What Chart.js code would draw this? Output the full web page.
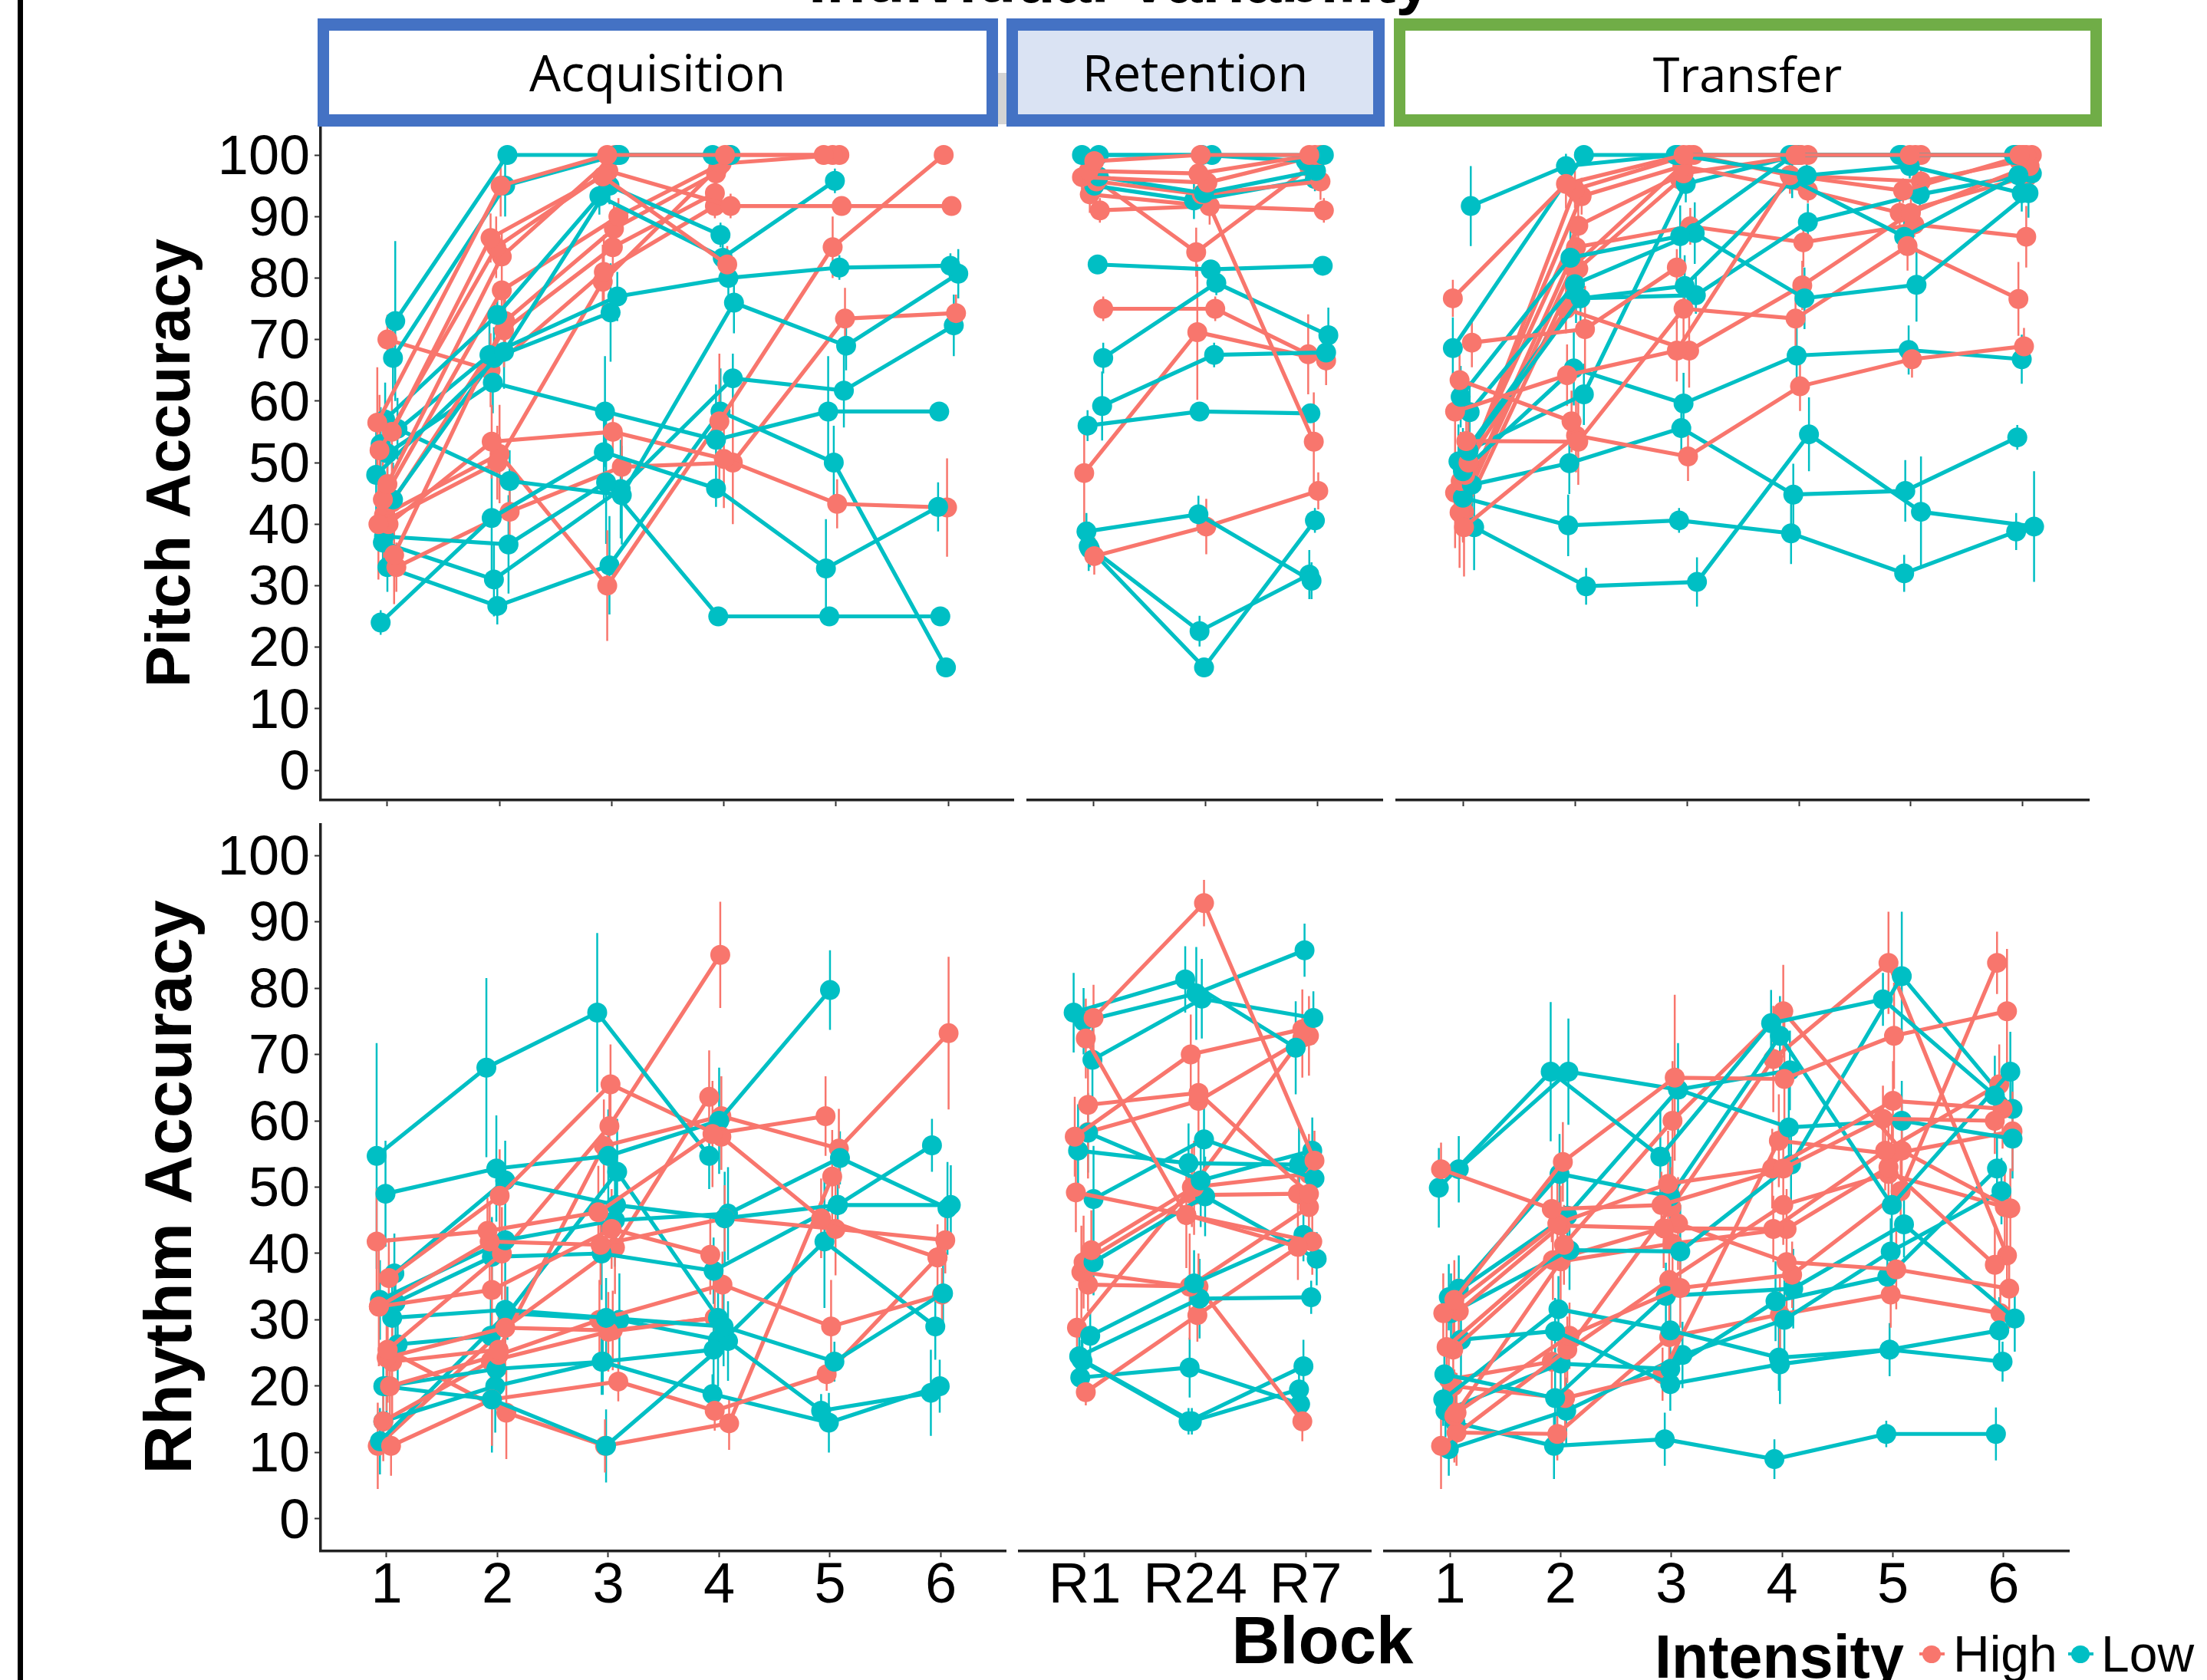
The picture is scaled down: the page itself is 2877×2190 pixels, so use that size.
<!DOCTYPE html>
<html>
<head>
<meta charset="utf-8">
<title>Individual Variability</title>
<script src="https://cdn.jsdelivr.net/npm/chart.js@4/dist/chart.umd.js"></script>
<style>
    html, body { margin: 0; padding: 0; background: #fff; overflow: hidden; }
    #page { position: relative; width: 2877px; height: 2190px; overflow: hidden; background: #fff; }
    canvas { position: absolute; }
    .txt { position: absolute; line-height: 1; white-space: nowrap; color: #000; z-index: 5; }
    .strip { position: absolute; box-sizing: border-box; z-index: 4; }
</style>
</head>
<body>
<div id="page"></div>
<script>
// Block labels
const blockLabels = ['1', '2', '3', '4', '5', '6'];
const retentionLabels = ['R1', 'R24', 'R7'];
const yTicks = [0, 10, 20, 30, 40, 50, 60, 70, 80, 90, 100];

// every participant is one line, each point is [block + jitter, mean, error half length]
const pitchAcqHigh = [
    [[0.91,56.5,9],[2.01,95,5],[2.96,100,0],[4.01,100,0],[4.89,100,0]],
    [[1.04,55,6],[1.92,86.5,4],[2.92,96.5,3],[4.03,82.2,3]],
    [[0.93,52,9],[1.97,85,5],[2.97,97.4,2],[4.06,91.7,2],[5.05,91.7,0],[6.03,91.7,0]],
    [[1.0,46.5,7],[2.02,83.5,4],[3.03,100,0],[4.05,100,0],[4.97,100,0]],
    [[0.96,44,7],[2.02,78,5],[3.06,90,3],[3.98,98.6,1],[5.03,100,0]],
    [[1.06,35,8],[2.05,73,6],[3.02,88,4],[3.93,97,2]],
    [[1.04,43.5,8],[2.04,71.5,6],[3.01,85,4],[3.92,93.8,2]],
    [[1.0,70,4],[1.92,65,6],[2.93,81,6],[3.92,91.7,2]],
    [[0.92,40,9],[1.98,50,6],[2.92,79.4,6],[3.95,98,2]],
    [[1.01,40,6],[1.93,53.4,6],[3.01,55,4],[4.0,50.6,8],[5.01,43.3,4],[5.99,42.7,8]],
    [[1.08,33,4],[2.09,42,4],[3.09,49.3,5],[4.08,50,10],[5.08,73.4,5],[6.07,74.3,3]],
    [[0.97,41.5,7],[2.0,51.4,8],[2.96,30,9],[3.96,56.7,11],[4.97,85,5],[5.96,100,0]]
];
const pitchAcqLow = [
    [[1.07,73,13],[2.07,100,0],[3.07,100,0],[3.9,100,0]],
    [[1.05,67,6],[2.05,95,5],[3.05,100,0],[4.06,100,0]],
    [[0.98,57,6],[1.98,74,5],[2.89,93.3,3],[3.99,83.3,4],[4.99,95.8,2]],
    [[0.9,48,7],[2.04,68,6],[2.98,95,3],[3.97,87,2]],
    [[0.94,53,6],[1.91,67.5,6],[3.05,77,4],[4.04,80,3],[5.03,81.7,2],[6.02,82,2]],
    [[1.05,44,6],[1.95,67,5],[2.99,74.4,8]],
    [[1.0,51.5,7],[1.94,63,5],[2.94,58.3,9],[3.93,53.7,9],[4.93,58.3,9],[5.92,58.3,0]],
    [[1.09,55.5,5],[2.09,47,5],[3.09,44.7,8],[4.09,76,5],[5.09,69,4],[6.09,80.7,4]],
    [[0.94,24,2],[1.93,41,9],[2.93,51.7,8],[3.93,45.8,3],[4.91,32.8,8],[5.91,42.8,4]],
    [[0.97,38,4],[2.08,36.7,8],[2.95,46.8,10],[3.95,25,0],[4.94,25,0],[5.93,25,0]],
    [[0.96,37,4],[1.95,31,6],[3.08,45.7,8],[4.08,63.7,4],[5.07,61.7,6],[6.05,72.3,5]],
    [[1.0,33,4],[1.98,26.7,3],[2.98,33.3,8],[3.97,58.3,7],[4.98,50,6],[5.98,16.7,0]]
];
const pitchRetHigh = [
    [[1.01,99,1],[1.96,100,0],[2.93,100,0]],
    [[0.96,97.4,2],[1.94,97,2],[2.98,100,0]],
    [[0.9,96.4,2],[2.02,95.5,2],[3.03,100,0]],
    [[1.03,95.7,2],[1.97,93.6,2],[3.03,95.7,3]],
    [[0.97,93.6,3],[2.04,91.7,3],[2.97,53.4,8]],
    [[1.06,91,2],[2.04,91.7,3],[3.06,91,2]],
    [[0.95,97,2],[1.92,84.2,4],[2.93,98,1]],
    [[1.09,75,2],[2.09,75,2],[2.92,67.6,6.5]],
    [[0.92,48.3,8],[1.93,71.2,11],[3.08,66.6,4]],
    [[1.01,34.8,3],[2.01,39.6,4.5],[3.01,45.4,3]]
];
const pitchRetLow = [
    [[0.9,100,0],[2.06,100,0],[3.06,100,0]],
    [[1.05,100,0],[1.97,100,0],[2.9,99,1]],
    [[1.05,96.5,2],[1.99,93.8,3],[2.99,97.4,2]],
    [[1.01,95,3],[1.9,92.6,3],[2.98,96.1,2]],
    [[1.04,82.2,1],[2.05,81.4,1],[3.05,82,1]],
    [[1.09,67,2.5],[2.1,79.2,2],[3.1,70.7,4.5]],
    [[1.08,59.2,5.6],[2.08,67.5,2],[3.08,67.9,3]],
    [[0.95,56,2.5],[1.95,58.3,1],[2.94,58,1.5]],
    [[0.94,38.8,3],[1.94,41.6,3],[2.95,30.8,3]],
    [[0.96,36.4,4],[1.95,22.6,2.5],[2.93,31.8,4]],
    [[0.97,36,3],[1.99,16.7,1],[2.98,40.6,2]]
];
const pitchTraHigh = [
    [[0.91,76.7,3],[1.92,95.3,4],[2.97,100,0],[3.97,100,0],[4.99,100,0],[5.97,100,0]],
    [[1.08,69.5,4],[2.09,71.7,7],[2.91,81.7,3]],
    [[0.97,63.4,6],[1.97,56.7,5]],
    [[0.93,58.3,5],[1.93,64.2,5],[2.91,68.2,5],[3.92,96.7,3],[4.93,94.2,2],[6.03,100,0]],
    [[1.03,53.5,8],[2.03,53.4,7],[2.97,75,5],[3.97,73.4,5],[4.97,85.2,4],[5.96,76.6,6]],
    [[1.05,50,8],[1.92,75,4],[3.02,68.2,6],[4.03,78.8,4],[5.0,90.6,3],[6.06,98.2,2]],
    [[1.01,39.5,8],[2.01,54.4,6],[3.01,51,4],[4.01,62.4,4],[5.01,66.8,3],[6.01,68.9,3]],
    [[1.02,48,7],[2.0,94.4,3],[3.02,100,0],[4.02,100,0],[5.04,100,0],[6.0,100,0]],
    [[0.98,47,8],[2.06,93.3,3],[2.96,98.2,2],[4.08,94.2,2],[4.9,90.6,2],[6.04,96.5,2]],
    [[0.93,45.1,9],[2.03,88.5,4],[2.97,97,3],[4.08,100,0],[5.09,100,0],[6.08,100,0]],
    [[1.0,44,7],[2.01,85,4],[3.03,88.4,3],[4.04,85.8,4],[5.03,88.7,2],[6.03,86.7,5]],
    [[0.97,41.9,9],[1.98,81.8,5],[3.06,100,0],[3.92,96.7,3],[5.09,95.7,2],[5.97,99,1]],
    [[1.01,42,8],[2.03,81.5,4],[2.94,96,3]]
];
const pitchTraLow = [
    [[1.07,91.7,6.5],[1.92,98.2,2],[2.9,100,0],[3.92,100,0],[4.9,100,0],[5.92,100,0]],
    [[0.91,68.6,5],[2.08,100,0],[2.92,100,0],[4.07,96.7,3],[4.99,98.2,2],[5.99,93.8,3]],
    [[0.98,60.7,5],[1.96,83.3,5],[2.94,86.8,5],[3.95,100,0],[4.92,100,0],[5.94,100,0]],
    [[1.06,58.2,5],[2.0,79,4],[3.07,87.3,5],[4.05,76.7,5],[5.05,78.9,6],[6.05,93.8,4]],
    [[1.05,51.9,7],[2.05,76.7,4],[2.98,78.7,5],[3.94,96,3],[4.94,86.7,3],[5.96,96.7,2]],
    [[0.96,50.2,6],[2.01,76.7,4],[3.08,77.2,3],[4.08,89.1,3],[5.08,93.6,3],[6.08,97,2]],
    [[1.0,48.6,7],[1.99,65.3,6],[2.97,59.6,5],[3.98,67.4,5],[4.98,68.3,4],[5.99,66.8,4]],
    [[1.08,46.4,6],[1.95,49.9,5],[2.95,55.6,5],[3.95,44.8,5],[4.95,45.4,5],[5.95,54.1,2]],
    [[1.0,44.3,7],[1.94,39.8,5],[2.93,40.6,2],[3.93,38.5,5],[4.94,32,3],[5.94,38.8,3]],
    [[1.1,39.5,7],[2.1,29.9,3],[3.09,30.6,4],[4.09,54.6,6],[5.09,42,9],[6.1,39.6,9]],
    [[1.05,52,6],[2.08,61.1,5],[2.99,95.3,3],[4.0,100,0]]
];
const rhythmAcqHigh = [
    [[0.91,41.8,8],[1.91,43.4,5],[2.91,46.2,7],[3.94,58,8],[4.96,60.7,6]],
    [[1.02,36.3,6],[2.02,48.7,7],[3.02,65.5,6],[4.02,57.6,5],[4.92,45.3,6],[5.97,39.4,5]],
    [[0.93,32,9],[1.95,34.5,7],[3.03,43.7,6],[3.92,39.8,6]],
    [[0.93,32,6],[1.93,41.8,6],[2.93,41.3,6],[4.05,45.3,5],[5.05,43.7,7],[6.04,42,5]],
    [[1.01,25.5,8],[2.04,40,7],[3.01,59.2,7],[4.01,85,8]],
    [[1.0,24.3,8],[2.07,28.8,7],[3.06,40.9,7],[3.91,63.6,7]],
    [[1.05,23.7,8],[2.01,25.5,7],[2.96,56.2,7],[4.02,60.7,6],[5.08,55.8,6],[6.07,73.2,11.5]],
    [[1.03,20,6],[2.01,24.7,7],[2.92,30,6],[4.03,35.3,5],[5.01,29,7],[6.01,33.8,4]],
    [[0.97,14.7,6],[1.94,23.8,5],[3.0,28.2,6],[3.96,30.3,5]],
    [[1.04,11,4.5],[1.95,18,7],[3.09,20.7,3],[3.96,16.3,3],[4.97,21.8,2.5],[5.97,39.4,5]],
    [[1.01,25.5,6],[2.08,16,7],[2.97,11,4],[4.09,14.4,4],[5.02,51.6,7]],
    [[0.92,11,6.5],[2.07,28.8,7],[3.04,28.4,6],[3.96,30.3,5]]
];
const rhythmAcqLow = [
    [[0.91,54.7,17],[1.9,68,13.5],[2.9,76.3,12],[3.91,54.7,5]],
    [[0.99,49,8],[1.99,52.8,8],[3.0,54.7,7],[4.0,60,8],[5.0,79.7,6]],
    [[1.07,37,6],[2.07,51,6],[3.07,47.3,7],[4.05,45.3,7],[5.07,47.3,4],[6.09,47.3,6]],
    [[0.94,33,6],[2.07,42,6],[3.06,45,7],[4.08,46,7],[5.09,54.4,4],[6.06,46.8,7]],
    [[1.08,32.6,5],[1.95,39.5,6],[2.94,40,7],[3.95,37.4,5],[5.07,47.3,4],[5.92,56.3,4]],
    [[1.05,30.3,6],[2.07,31.5,5],[2.98,30.3,6],[4.04,29,6],[5.04,23.7,3],[6.02,34,5]],
    [[1.1,26.3,6],[1.94,27.6,6],[3.08,52.3,8],[3.99,30.3,5]],
    [[1.0,20,4],[1.99,22.6,5],[2.95,23.7,5],[3.95,25.5,6],[4.95,41.8,10],[5.95,29,5]],
    [[0.97,20,5],[1.95,18,8],[2.98,11,5.5],[4.08,26.8,6],[4.92,16.3,2.5],[5.91,19,6.5]],
    [[0.97,14.7,5],[1.98,20,7],[2.94,23.7,5],[3.94,18.8,3],[4.99,14.5,4.5],[5.99,20,4]],
    [[0.94,11.7,5],[2.09,31,4],[3.1,30,7],[3.99,27,7]]
];
const rhythmRetHigh = [
    [[1.08,75.5,5],[2.08,92.8,3.5],[3.08,54,4.5]],
    [[1.01,72.4,6],[1.92,45.8,6],[2.93,41,5]],
    [[1.03,62.4,6],[2.03,64.2,6],[3.03,49,8]],
    [[0.91,57.6,6],[1.96,70,6],[2.97,73.8,6]],
    [[1.03,58.3,7],[2.03,63,7],[3.03,72.8,6]],
    [[0.92,49.2,6],[1.92,45.8,8],[3.06,41.8,5]],
    [[1.06,40.5,6],[1.99,50,7],[3.03,52,6]],
    [[0.99,38.7,7],[1.99,48.8,6],[2.93,49,6]],
    [[0.97,37.2,7],[1.95,35,8],[3.03,47,5]],
    [[1.03,35.3,4],[2.03,35,5],[2.97,14.7,3]],
    [[0.93,28.8,6],[1.97,50,6],[2.97,72.5,6]],
    [[1.01,19.1,2],[2.02,30.7,4],[2.93,41,5]]
];
const rhythmRetLow = [
    [[0.9,76.3,6],[1.91,81.3,5],[2.91,71,7]],
    [[0.99,75,5],[2.01,79.2,7],[2.99,85.7,4]],
    [[1.07,69.2,7],[2.06,78.4,6],[3.07,75.5,4]],
    [[1.03,58.2,6],[2.05,51,7],[3.06,55.5,5]],
    [[0.94,55.5,7],[1.94,53.6,6],[2.94,53.4,6]],
    [[1.08,48.2,8],[2.08,57.2,5],[3.08,51.3,5]],
    [[1.08,38.7,5],[2.09,48.6,6],[3.1,39.2,4]],
    [[1.05,27.6,4],[1.99,35.5,5],[2.98,42.8,4]],
    [[0.95,24.5,3],[2.04,33.2,6],[3.05,33.4,2.5]],
    [[0.98,23.8,3],[1.94,14.7,2],[2.98,23,4]],
    [[0.97,24,3],[1.97,14.7,2],[2.94,19.5,4]],
    [[0.96,21.3,3],[1.95,22.8,4.5],[2.95,17.3,3]]
];
const rhythmTraHigh = [
    [[0.92,52.7,4],[1.92,46.7,5],[2.91,47.3,5],[4.01,52.8,6],[4.91,60.3,5],[5.92,60,5]],
    [[1.04,33,6],[2.02,53.8,6],[3.03,66.5,12.5],[4.02,66.3,9],[5.01,72.8,8],[6.03,76.5,9.4]],
    [[0.94,31,6],[1.97,44.5,7],[2.97,50.5,8],[3.91,52.8,6],[5.0,63,6],[5.99,61.8,6]],
    [[1.08,31.3,5],[2.0,44.2,6],[2.93,43.8,6],[3.92,43.7,5],[4.93,55.5,6],[5.96,65.5,6]],
    [[0.97,25.9,6],[2.03,41.3,6],[3.01,60,9],[4.01,76.5,7],[5.08,55.5,7],[6.06,46.8,6]],
    [[1.03,25.5,7],[1.93,39,6],[3.06,44.5,7],[4.04,38.7,7],[5.03,37.6,6],[6.05,34.7,6]],
    [[1.06,16,6],[2.08,27.6,5],[3.08,34.8,6],[4.09,36.8,5],[5.07,49.4,6],[5.94,83.8,4.7]],
    [[1.04,15.5,7],[2.0,38.8,6],[3.01,41.5,7],[4.04,43.7,6],[4.96,53,7],[5.92,38.3,6]],
    [[0.92,11,6.5],[2.06,25.5,5],[3.0,47,6],[3.92,69.3,8],[4.96,83.8,7.7],[6.03,39.7,6]],
    [[1.03,20,5],[2.04,18.2,5],[2.92,21.8,4],[3.97,57,7],[4.99,55,6],[6.08,58.4,6]],
    [[1.06,13,5],[1.97,12.8,4],[2.98,27.4,6],[3.98,30.8,6],[4.98,33.8,5],[5.97,31,4]],
    [[0.99,21,6],[1.92,23.7,5],[2.98,36,6],[4.01,47.3,6],[4.96,52,6],[6.01,47,6]]
];
const rhythmTraLow = [
    [[0.9,49.9,6],[1.91,67.4,10.5],[2.9,54.6,7],[3.9,74.7,5],[4.91,78.3,4],[5.92,63.8,6]],
    [[1.08,52.7,5],[2.07,67.4,8],[3.06,64.7,7],[4.07,67.6,6]],
    [[1.08,34.7,5],[1.99,52,6],[2.99,48.6,6],[3.98,72.8,6],[4.99,47.3,6],[6.06,67.4,6]],
    [[0.99,33.4,5],[2.06,45.7,7],[3.06,64.7,7],[4.06,59,6],[5.08,60,6],[6.08,57.3,6]],
    [[1.01,31,6],[2.08,40.5,6],[3.08,40.3,7],[4.08,53.4,6],[5.08,81.8,9.7],[6.08,61.8,7]],
    [[1.1,27,6],[1.95,28.3,5],[2.99,20.3,4],[3.98,23.3,6],[4.97,25.5,4],[5.96,28.4,5]],
    [[0.95,21.8,5],[1.95,18.2,5],[2.95,33.6,5],[4.1,34.7,6],[5.1,44.4,5],[6.1,30.2,5]],
    [[0.94,18,4],[1.98,31.6,5],[2.99,28.4,5],[3.97,24.3,5],[4.97,25.5,4],[5.99,23.7,3]],
    [[0.96,16.3,4],[2.0,23.4,5],[2.99,22.6,5],[3.94,32.8,6],[4.95,36.5,4],[5.94,52.8,5]],
    [[0.99,10.5,4],[2.05,16.3,5],[3.1,24.7,5],[4.02,30,6],[4.98,40.3,5],[5.98,49.4,5]],
    [[1.05,14.5,5],[1.94,11,5],[2.94,12,4],[3.93,9,3],[4.94,12.8,2],[5.93,12.8,4]]
];

const HIGH_COLOR = '#F8766D';
const LOW_COLOR = '#00BFC4';
const AXIS_COLOR = '#222';
const SANS = '"Liberation Sans", Arial, sans-serif';

const page = document.getElementById('page');

function lineDataset(line, color) {
    return {
        data: line.map(p => ({ x: p[0], y: p[1] })),
        borderColor: color,
        borderWidth: 5.2,
        backgroundColor: color,
        pointBackgroundColor: color,
        pointBorderWidth: 0,
        pointRadius: 13,
        tension: 0,
        fill: false
    };
}

// error bars as one broken line per colour, gaps come from the null points
function errorDataset(lines, color) {
    const data = [];
    lines.forEach(line => line.forEach(p => {
        if (p[2] > 0) {
            data.push({ x: p[0], y: p[1] - p[2] }, { x: p[0], y: p[1] + p[2] }, { x: p[0], y: null });
        }
    }));
    return {
        data: data,
        borderColor: color,
        borderWidth: 2.5,
        pointRadius: 0,
        spanGaps: false,
        tension: 0,
        fill: false
    };
}

function buildDatasets(high, low) {
    const sets = [];
    const n = Math.max(high.length, low.length);
    for (let i = 0; i < n; i++) {
        if (high[i]) sets.push(lineDataset(high[i], HIGH_COLOR));
        if (low[i]) sets.push(lineDataset(low[i], LOW_COLOR));
    }
    sets.push(errorDataset(high, HIGH_COLOR));
    sets.push(errorDataset(low, LOW_COLOR));
    return sets;
}

function makePanel(cfg) {
    const canvas = document.createElement('canvas');
    const hasY = !!cfg.yTitle;
    const left = hasY ? 0 : cfg.left;
    canvas.width = cfg.right - left;
    canvas.height = cfg.bottom - cfg.top + cfg.xHeight;
    canvas.style.left = left + 'px';
    canvas.style.top = cfg.top + 'px';
    page.appendChild(canvas);

    new Chart(canvas.getContext('2d'), {
        type: 'line',
        data: { datasets: buildDatasets(cfg.high, cfg.low) },
        options: {
            responsive: false,
            animation: false,
            events: [],
            layout: { padding: 0, autoPadding: false },
            plugins: { legend: { display: false }, tooltip: { enabled: false }, title: { display: false } },
            scales: {
                x: {
                    type: 'linear',
                    min: cfg.xMin,
                    max: cfg.xMax,
                    afterFit: s => { s.height = cfg.xHeight; s.paddingLeft = 0; s.paddingRight = 0; },
                    border: { display: true, color: AXIS_COLOR, width: 3.5 },
                    grid: { display: true, drawOnChartArea: false, drawTicks: true, tickLength: 8, tickWidth: 2, tickColor: '#333' },
                    ticks: {
                        stepSize: 1,
                        includeBounds: false,
                        autoSkip: false,
                        maxRotation: 0,
                        minRotation: 0,
                        padding: cfg.xPad,
                        color: '#000',
                        font: { family: SANS, size: 74 },
                        callback: v => (cfg.xLabels ? cfg.xLabels[v - 1] : '')
                    }
                },
                y: {
                    type: 'linear',
                    display: hasY,
                    min: cfg.yMin,
                    max: cfg.yMax,
                    afterFit: s => { s.width = hasY ? cfg.left : 0; s.paddingTop = 0; s.paddingBottom = 0; },
                    border: { display: true, color: AXIS_COLOR, width: 3.5 },
                    grid: { display: true, drawOnChartArea: false, drawTicks: true, tickLength: 8, tickWidth: 2, tickColor: '#333' },
                    title: {
                        display: hasY,
                        text: cfg.yTitle,
                        color: '#000',
                        font: { family: SANS, size: cfg.titleSize, weight: 'bold' },
                        padding: { top: cfg.titlePad, bottom: 0 }
                    },
                    ticks: {
                        stepSize: 10,
                        includeBounds: false,
                        autoSkip: false,
                        padding: 6,
                        labelOffset: 5,
                        color: '#000',
                        font: { family: SANS, size: 72 },
                        callback: v => (yTicks.includes(v) ? String(v) : '')
                    }
                }
            }
        }
    });
}

const topRow = { top: 164, bottom: 1043, xHeight: 12, yMin: -4.86, yMax: 104.74, xPad: 0, titleSize: 81, titlePad: 176 };
const bottomRow = { top: 1073, bottom: 2022, xHeight: 80, yMin: -4.86, yMax: 104.86, xPad: -6, titleSize: 88, titlePad: 172 };

makePanel({ ...topRow, left: 418, right: 1322, xMin: 0.405, xMax: 6.588, yTitle: 'Pitch Accuracy', high: pitchAcqHigh, low: pitchAcqLow });
makePanel({ ...topRow, left: 1338, right: 1803, xMin: 0.404, xMax: 3.589, high: pitchRetHigh, low: pitchRetLow });
makePanel({ ...topRow, left: 1819, right: 2724, xMin: 0.397, xMax: 6.596, high: pitchTraHigh, low: pitchTraLow });
makePanel({ ...bottomRow, left: 418, right: 1312, xMin: 0.405, xMax: 6.592, yTitle: 'Rhythm Accuracy', xLabels: blockLabels, high: rhythmAcqHigh, low: rhythmAcqLow });
makePanel({ ...bottomRow, left: 1327, right: 1788, xMin: 0.396, xMax: 3.597, xLabels: retentionLabels, high: rhythmRetHigh, low: rhythmRetLow });
makePanel({ ...bottomRow, left: 1803, right: 2698, xMin: 0.397, xMax: 6.596, xLabels: blockLabels, high: rhythmTraHigh, low: rhythmTraLow });

// text helper, baseline is the y of the letters' foot
function addText(text, x, baseline, size, opts) {
    const o = opts || {};
    const el = document.createElement('div');
    el.className = 'txt';
    el.textContent = text;
    el.style.fontFamily = o.family || SANS;
    el.style.fontSize = size + 'px';
    el.style.fontWeight = o.bold ? 'bold' : 'normal';
    el.style.left = x + 'px';
    el.style.top = (baseline - size * (o.ascent || 0.8465)) + 'px';
    if (o.center) el.style.transform = 'translateX(-50%)';
    page.appendChild(el);
}

function addStrip(x0, x1, border, fill) {
    const el = document.createElement('div');
    el.className = 'strip';
    el.style.left = x0 + 'px';
    el.style.top = '24px';
    el.style.width = (x1 - x0) + 'px';
    el.style.height = '141px';
    el.style.borderStyle = 'solid';
    el.style.borderColor = border;
    el.style.borderWidth = '16px 15px';
    el.style.background = fill;
    page.appendChild(el);
}

function addBlock(x, y, w, h, color, radius) {
    const el = document.createElement('div');
    el.style.cssText = 'position:absolute;z-index:3;left:' + x + 'px;top:' + y + 'px;width:' + w + 'px;height:' + h + 'px;background:' + color + ';' + (radius ? 'border-radius:50%;' : '');
    page.appendChild(el);
}

// left border line of the slide, grey piece between the first two strips
addBlock(23, 0, 7, 2190, '#000');
addBlock(1301, 95, 11, 67, '#d4d4d4');

addStrip(414, 1301, '#4472C4', '#fff');
addStrip(1312, 1805, '#4472C4', '#DAE3F3');
addStrip(1817, 2740, '#70AD47', '#fff');

const STRIP_FONT = { family: '"Open Sans", sans-serif', ascent: 0.888, center: true };
addText('Acquisition', 857, 120, 65, STRIP_FONT);
addText('Retention', 1558, 120, 65, STRIP_FONT);
addText('Transfer', 2278, 120, 63, STRIP_FONT);

addText('Individual Variability', 1460, 3, 84, { bold: true, center: true });
addText('Block', 1724, 2168, 87, { bold: true, center: true });

// legend
addText('Intensity', 2157, 2187, 79, { bold: true });
addBlock(2502, 2154, 33, 4, HIGH_COLOR);
addBlock(2506, 2145, 24, 23, HIGH_COLOR, true);
addText('High', 2546, 2179, 66);
addBlock(2696, 2154, 33, 4, LOW_COLOR);
addBlock(2700, 2145, 24, 23, LOW_COLOR, true);
addText('Low', 2739, 2179, 66);
</script>
</body>
</html>
